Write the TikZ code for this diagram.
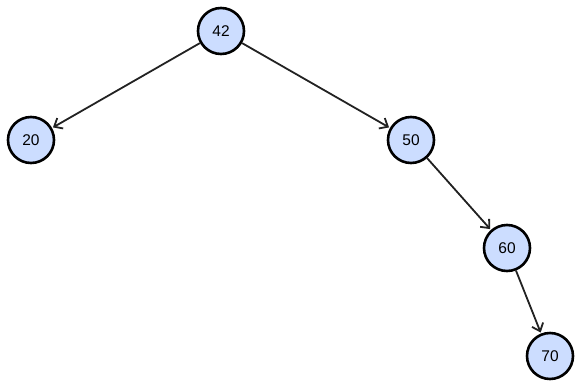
\documentclass[tikz,border=0pt]{standalone}
\usepackage{fontspec}
\setmainfont{Liberation Sans}
\usetikzlibrary{arrows.meta}
\definecolor{nodefill}{HTML}{CCDDFF}
\definecolor{edgecol}{HTML}{222222}
\begin{document}
\begin{tikzpicture}[x=1pt,y=-1pt,
  treenode/.style={circle,draw=black,line width=2.6pt,fill=nodefill,minimum size=46pt,inner sep=0pt,font=\fontsize{15.5}{18}\selectfont},
  edge/.style={draw=edgecol,line width=1.8pt,-{Straight Barb[length=7pt,width=12pt,line width=1.8pt]},shorten >=1pt}]
\useasboundingbox (0,0) rectangle (575,383);
\node[treenode] (n42) at (221,31) {42};
\node[treenode] (n20) at (31,140) {20};
\node[treenode] (n50) at (411,140) {50};
\node[treenode] (n60) at (507,248) {60};
\node[treenode] (n70) at (550,356) {70};
\draw[edge] (n42) -- (n20);
\draw[edge] (n42) -- (n50);
\draw[edge] (n50) -- (n60);
\draw[edge] (n60) -- (n70);
\end{tikzpicture}
\end{document}
